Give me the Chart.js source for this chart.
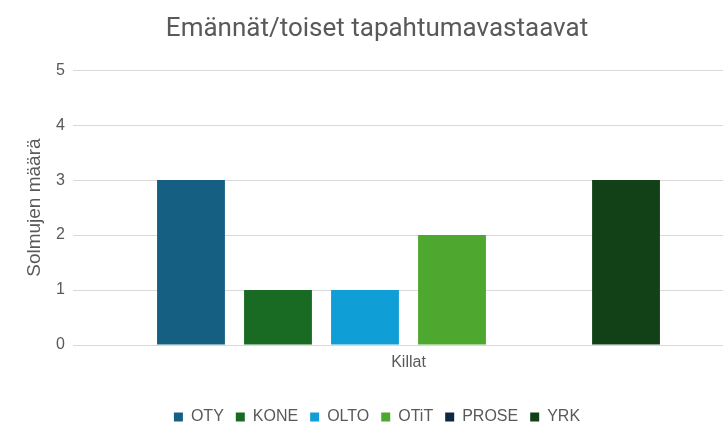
<!DOCTYPE html>
<html>
<head>
<meta charset="utf-8">
<script src="https://cdn.jsdelivr.net/npm/chart.js@4"></script>
<style>
  html, body { margin: 0; padding: 0; background: #fff; overflow: hidden; }
  #wrap { width: 754px; height: 425px; position: relative; }
</style>
</head>
<body>
<div id="wrap"><canvas id="chart"></canvas></div>
<script>
// data
const categories = ["Killat"];
const seriesNames = ["OTY", "KONE", "OLTO", "OTiT", "PROSE", "YRK"];
const seriesValues = [3, 1, 1, 2, 0, 3];
const seriesColors = ["#156082", "#196B24", "#0F9ED5", "#4EA72E", "#0E2841", "#124118"];
const yTicks = [0, 1, 2, 3, 4, 5];

const textColor = "#595959";
const font = "'Liberation Sans', Arial, sans-serif";

const datasets = seriesNames.map((name, i) => ({
    label: name,
    data: [seriesValues[i]],
    backgroundColor: seriesColors[i],
    borderWidth: 0,
    categoryPercentage: 0.797,
    barPercentage: 0.78,
}));

new Chart(document.getElementById("chart"), {
    type: "bar",
    data: { labels: categories, datasets },
    options: {
        responsive: true,
        maintainAspectRatio: false,
        animation: false,
        layout: { padding: { left: 18, right: 18, top: 14, bottom: -10 } },
        plugins: {
            title: {
                display: true,
                text: "Emännät/toiset tapahtumavastaavat",
                color: textColor,
                font: { family: "Roboto, sans-serif", size: 26, weight: "normal" },
                padding: { top: 0, bottom: 25 },
            },
            legend: {
                position: "bottom",
                labels: {
                    color: textColor,
                    font: { family: font, size: 16 },
                    boxWidth: 9,
                    boxHeight: 9,
                    padding: 12,
                },
            },
            tooltip: { enabled: false },
        },
        scales: {
            x: {
                grid: { display: false },
                border: { display: false },
                ticks: { color: textColor, font: { family: font, size: 16 }, padding: 0 },
                afterFit: (s) => { s.height = 52; },
            },
            y: {
                min: 0,
                max: 5,
                afterBuildTicks: (s) => { s.ticks = yTicks.map(v => ({ value: v })); },
                grid: { color: "#d9d9d9", lineWidth: 1 },
                border: { display: false },
                ticks: { color: textColor, font: { family: font, size: 16 }, padding: 8 },
                title: {
                    display: true,
                    text: "Solmujen määrä",
                    color: textColor,
                    font: { family: font, size: 19 },
                    padding: { top: 5, bottom: 4 },
                },
                afterFit: (s) => { s.width = 63; },
            },
        },
    },
});
</script>
</body>
</html>
